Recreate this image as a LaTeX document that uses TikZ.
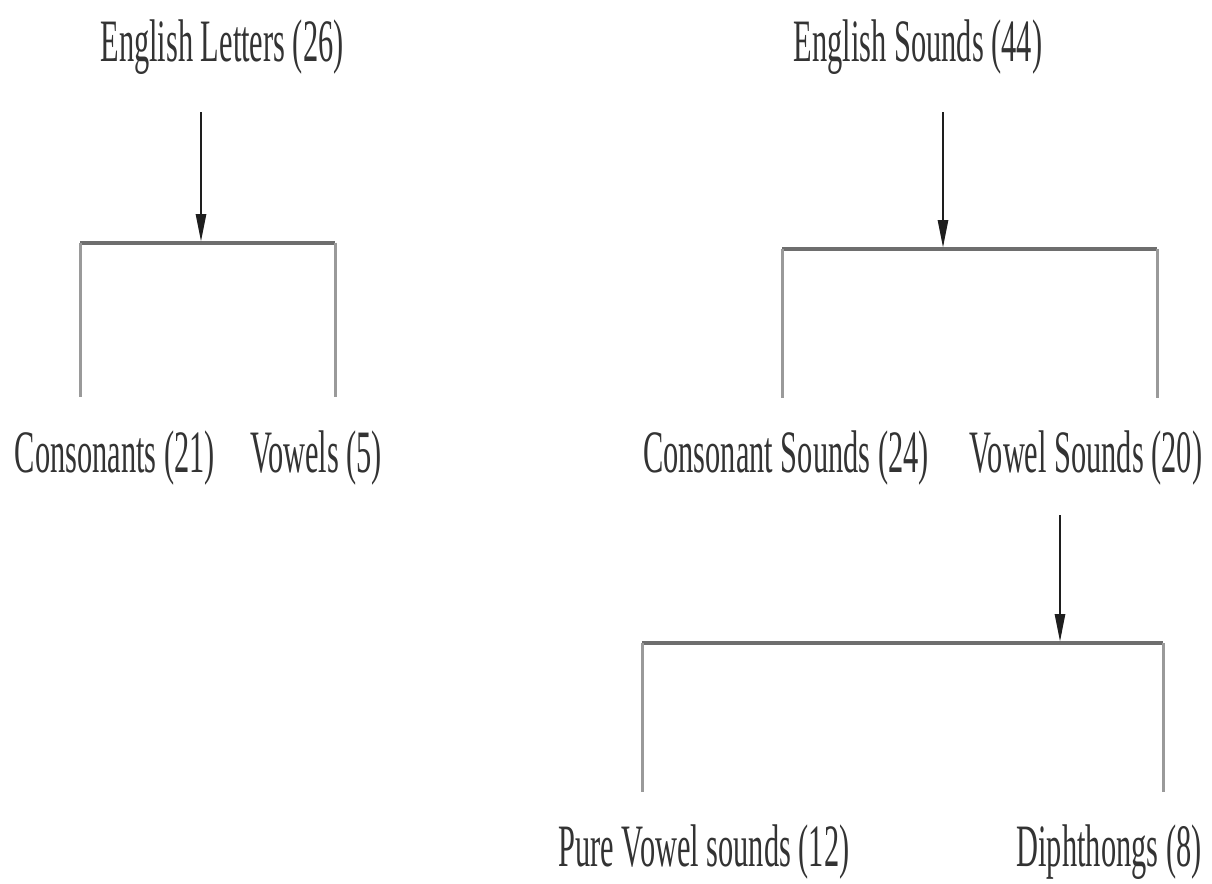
\documentclass[tikz,border=0pt]{standalone}
\usepackage{fontspec}
\usepackage{graphicx}
\setmainfont{Liberation Serif}
\usetikzlibrary{arrows.meta}
\definecolor{txtc}{HTML}{333333}
\definecolor{arrc}{HTML}{1E1E1E}
\definecolor{barc}{HTML}{6E6E6E}
\definecolor{legc}{HTML}{9A9A9A}
\newcommand{\talltext}[1]{\scalebox{1}[1.98]{#1}}
\begin{document}
\begin{tikzpicture}[x=1pt,y=-1pt,
  lbl/.style={inner sep=0pt,anchor=base,text=txtc,font=\fontsize{30.4}{36}\selectfont},
  arr/.style={draw=arrc,line width=2.8pt,-{Triangle[width=10pt,length=28pt]}},
  bar/.style={draw=barc,line width=4pt},
  leg/.style={draw=legc,line width=3pt}]
\useasboundingbox[fill=white] (0,0) rectangle (1212,883);
% labels
\node[lbl] (L0) at (222,62) {\talltext{English Letters (26)}};
\node[lbl] (L1) at (115,472) {\talltext{Consonants (21)}};
\node[lbl] (L2) at (316,472) {\talltext{Vowels (5)}};
\node[lbl] (R0) at (918,62) {\talltext{English Sounds (44)}};
\node[lbl] (R1) at (786,472) {\talltext{Consonant Sounds (24)}};
\node[lbl] (R2) at (1086,472) {\talltext{Vowel Sounds (20)}};
\node[lbl] (R3) at (704,866) {\talltext{Pure Vowel sounds (12)}};
\node[lbl] (R4) at (1109,866) {\talltext{Diphthongs (8)}};
% left tree
\coordinate (La) at (201,112);
\coordinate (Lt) at (201,242);
\coordinate (Lb1) at (80,242.5);
\coordinate (Lb2) at (335,242.5);
\coordinate (Le1) at (80,397);
\coordinate (Le2) at (335,397);
\draw[bar] (Lb1) -- (Lb2);
\draw[leg] (Lb1) -- (Le1);
\draw[leg] (Lb2) -- (Le2);
\draw[arr] (La) -- (Lt);
% right tree
\coordinate (Ra) at (943,112);
\coordinate (Rt) at (943,248);
\coordinate (Rb1) at (782,249);
\coordinate (Rb2) at (1157,249);
\coordinate (Re1) at (782,398);
\coordinate (Re2) at (1157,398);
\draw[bar] (Rb1) -- (Rb2);
\draw[leg] (Rb1) -- (Re1);
\draw[leg] (Rb2) -- (Re2);
\draw[arr] (Ra) -- (Rt);
% lower tree
\coordinate (Va) at (1060,515);
\coordinate (Vt) at (1060,642);
\coordinate (Vb1) at (642,643);
\coordinate (Vb2) at (1163,643);
\coordinate (Ve1) at (642,792);
\coordinate (Ve2) at (1163,792);
\draw[bar] (Vb1) -- (Vb2);
\draw[leg] (Vb1) -- (Ve1);
\draw[leg] (Vb2) -- (Ve2);
\draw[arr] (Va) -- (Vt);
\end{tikzpicture}
\end{document}
